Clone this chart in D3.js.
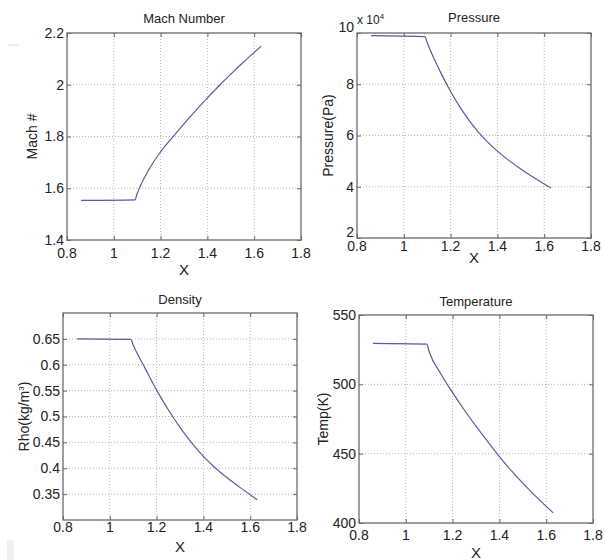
<!DOCTYPE html>
<html>
<head>
<meta charset="utf-8">
<script src="https://cdn.jsdelivr.net/npm/d3@7"></script>
<style>
  body { margin: 0; background: #fff; }
  svg { font-family: "Liberation Sans", Arial, sans-serif; }
  .grid line { stroke: #b4b4b4; stroke-dasharray: 1,2; stroke-width: 1; }
</style>
</head>
<body>
<svg id="chart" width="605" height="560"></svg>
<script>
// shared x positions along the nozzle
const xVals = [0.86, 1.09, 1.1, 1.15, 1.2, 1.25, 1.3, 1.35, 1.4, 1.45, 1.5, 1.55, 1.6, 1.63];

const machVals = [1.553, 1.555, 1.580, 1.672, 1.741, 1.796, 1.849, 1.900, 1.949, 1.996, 2.041, 2.084, 2.125, 2.149];
// pressure in units of 1e4 Pa
const pressureVals = [9.9, 9.86, 9.62, 8.60, 7.72, 6.97, 6.34, 5.82, 5.39, 5.02, 4.69, 4.39, 4.11, 3.95];
const densityVals = [0.65, 0.649, 0.638, 0.594, 0.551, 0.513, 0.479, 0.449, 0.423, 0.401, 0.382, 0.365, 0.349, 0.339];
const tempVals = [529.5, 529, 523.5, 507.5, 494, 481.5, 469.8, 458.6, 447.9, 437.9, 428.7, 420.1, 412, 407.3];

const xTicks = [0.8, 1, 1.2, 1.4, 1.6, 1.8];
const machTicks = [1.4, 1.6, 1.8, 2, 2.2];
const pressureTicks = [2, 4, 6, 8, 10];
const densityTicks = [0.35, 0.4, 0.45, 0.5, 0.55, 0.6, 0.65];
const tempTicks = [400, 450, 500, 550];

const titles = ["Mach Number", "Pressure", "Density", "Temperature"];

const svg = d3.select("#chart");

const panels = [
  {title: titles[0], ys: machVals, yDom: [1.4, 2.2], yTicks: machTicks, ylab: "Mach #",
   box: {l: 67, r: 301, t: 33, b: 240}, titleY: 23, xLabY: 258, xTitleY: 275, ylabX: 37, endShift: 0},
  {title: titles[1], ys: pressureVals, yDom: [2, 10], yTicks: pressureTicks, ylab: "Pressure(Pa)",
   box: {l: 357, r: 591, t: 33, b: 238}, titleY: 22, xLabY: 251, xTitleY: 263, ylabX: 333, endShift: -6, exp: true},
  {title: titles[2], ys: densityVals, yDom: [0.3, 0.7], yTicks: densityTicks, ylab: "Rho(kg/m3)",
   box: {l: 63, r: 297, t: 313, b: 520}, titleY: 304, xLabY: 532, xTitleY: 552, ylabX: 29, endShift: 0},
  {title: titles[3], ys: tempVals, yDom: [400, 550], yTicks: tempTicks, ylab: "Temp(K)",
   box: {l: 359, r: 593, t: 315, b: 523}, titleY: 306, xLabY: 540, xTitleY: 558, ylabX: 328, endShift: 0}
];

panels.forEach(p => draw_panel(p));

function draw_panel(p) {
  const b = p.box;
  const xScale = d3.scaleLinear().domain([0.8, 1.8]).range([b.l, b.r]);
  const yScale = d3.scaleLinear().domain(p.yDom).range([b.b, b.t]);
  const g = svg.append("g");

  // dotted grid
  const grid = g.append("g").attr("class", "grid");
  grid.selectAll("line.gx")
    .data(xTicks.slice(1, -1))
    .join("line")
      .attr("x1", d => xScale(d)).attr("x2", d => xScale(d))
      .attr("y1", b.t).attr("y2", b.b);
  grid.selectAll("line.gy")
    .data(p.yTicks.filter(t => t > p.yDom[0] && t < p.yDom[1]))
    .join("line")
      .attr("x1", b.l).attr("x2", b.r)
      .attr("y1", d => yScale(d)).attr("y2", d => yScale(d));

  // inward ticks on all four sides
  g.append("g")
    .attr("transform", `translate(0,${b.b})`)
    .call(d3.axisTop(xScale).tickValues(xTicks).tickSize(4).tickFormat(""))
    .call(s => s.select(".domain").remove());
  g.append("g")
    .attr("transform", `translate(0,${b.t})`)
    .call(d3.axisBottom(xScale).tickValues(xTicks).tickSize(4).tickFormat(""))
    .call(s => s.select(".domain").remove());
  g.append("g")
    .attr("transform", `translate(${b.l},0)`)
    .call(d3.axisRight(yScale).tickValues(p.yTicks).tickSize(4).tickFormat(""))
    .call(s => s.select(".domain").remove());
  g.append("g")
    .attr("transform", `translate(${b.r},0)`)
    .call(d3.axisLeft(yScale).tickValues(p.yTicks).tickSize(4).tickFormat(""))
    .call(s => s.select(".domain").remove());
  g.selectAll(".tick line").attr("stroke", "#666");

  g.append("rect")
    .attr("x", b.l).attr("y", b.t)
    .attr("width", b.r - b.l).attr("height", b.b - b.t)
    .attr("fill", "none").attr("stroke", "#6a6a6a").attr("stroke-width", 1.3);

  // tick labels
  g.selectAll("text.xl")
    .data(xTicks)
    .join("text")
      .attr("x", d => xScale(d))
      .attr("y", p.xLabY)
      .attr("text-anchor", "middle")
      .style("font-size", "14px").style("fill", "#222")
      .text(d => d);
  const last = p.yTicks.length - 1;
  g.selectAll("text.yl")
    .data(p.yTicks)
    .join("text")
      .attr("x", b.l - 3)
      .attr("y", (d, i) => yScale(d) + ((i === 0 || i === last) ? p.endShift : 0))
      .attr("dy", ".35em")
      .attr("text-anchor", "end")
      .style("font-size", "14px").style("fill", "#222")
      .text(d => d);

  // title + axis labels
  g.append("text")
    .attr("x", (b.l + b.r) / 2).attr("y", p.titleY)
    .attr("text-anchor", "middle")
    .style("font-size", "13px").style("fill", "#222")
    .text(p.title);
  g.append("text")
    .attr("x", (b.l + b.r) / 2).attr("y", p.xTitleY)
    .attr("text-anchor", "middle")
    .style("font-size", "15px").style("fill", "#222")
    .text("X");

  const yl = g.append("text")
    .attr("transform", `translate(${p.ylabX},${(b.t + b.b) / 2}) rotate(-90)`)
    .attr("text-anchor", "middle")
    .style("font-size", "14px").style("fill", "#222");
  if (p.ylab === "Rho(kg/m3)") {
    yl.append("tspan").text("Rho(kg/m");
    yl.append("tspan").attr("dy", -5).style("font-size", "8px").text("3");
    yl.append("tspan").attr("dy", 5).text(")");
  } else {
    yl.text(p.ylab);
  }

  if (p.exp) {
    const e = g.append("text")
      .attr("x", b.l).attr("y", b.t - 9)
      .style("font-size", "12px").style("fill", "#222");
    e.append("tspan").text("x 10");
    e.append("tspan").attr("dy", -5).style("font-size", "8px").text("4");
  }

  // curve
  const pts = xVals.map((x, i) => [x, p.ys[i]]);
  g.append("path")
    .datum(pts)
    .attr("fill", "none")
    .attr("stroke", "#5a5aa0")
    .attr("stroke-width", 1.2)
    .attr("d", d3.line().x(d => xScale(d[0])).y(d => yScale(d[1])).curve(d3.curveMonotoneX));
}

// faint scan artefacts at the left margin
svg.append("line").attr("x1", 8).attr("x2", 19).attr("y1", 45).attr("y2", 45)
  .attr("stroke", "#ddd").attr("stroke-width", 1);
svg.append("rect").attr("x", 7).attr("y", 540).attr("width", 7).attr("height", 20)
  .attr("fill", "#f0f0f0");
</script>
</body>
</html>
